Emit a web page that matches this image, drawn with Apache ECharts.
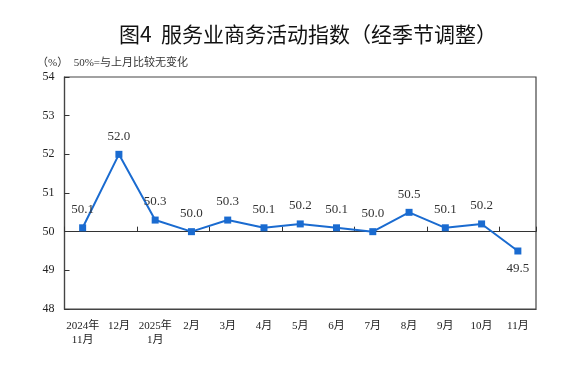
<!DOCTYPE html>
<html><head><meta charset="utf-8">
<script src="https://cdn.jsdelivr.net/npm/echarts@6/dist/echarts.min.js"></script>
<style>html,body{margin:0;padding:0;background:#fff}#c{width:584px;height:367px}</style>
</head><body><div id="c"></div>
<script>
const categories = ['2024年\n11月','12月','2025年\n1月','2月','3月','4月','5月','6月','7月','8月','9月','10月','11月'];
const values = [50.1, 52.0, 50.3, 50.0, 50.3, 50.1, 50.2, 50.1, 50.0, 50.5, 50.1, 50.2, 49.5];
const yMin = 48, yMax = 54, yStep = 1, baseLine = 50;
const serif = "'Liberation Serif','Noto Sans CJK SC',serif";
const chart = echarts.init(document.getElementById('c'));
const gridTop = 77, gridBottom = 58, gridH = 367 - gridTop - gridBottom;
chart.setOption({
  animation: false,
  title: [{
    text: '图4  服务业商务活动指数（经季节调整）',
    left: 114, top: 19,
    textStyle: {fontFamily: "'Noto Sans CJK SC'", fontSize: 21, fontWeight: 'normal', color: '#111'}
  }, {
    text: '（%）  50%=与上月比较无变化',
    left: 32, top: 53,
    textStyle: {fontFamily: serif, fontSize: 11, fontWeight: 'normal', color: '#333'}
  }],
  grid: {left: 64.5, right: 48, top: gridTop, bottom: gridBottom, show: true, borderColor: '#444', borderWidth: 1.2, backgroundColor: 'transparent'},
  xAxis: [{
    type: 'category', data: categories, boundaryGap: true,
    axisLine: {show: true, lineStyle: {color: '#444', width: 1.2}},
    axisTick: {show: false},
    axisLabel: {fontFamily: serif, fontSize: 11, color: '#222', margin: 10, lineHeight: 14, interval: 0}
  }, {
    type: 'category', data: categories, boundaryGap: true, position: 'bottom',
    offset: -(gridH * (baseLine - yMin) / (yMax - yMin)),
    axisLine: {show: true, lineStyle: {color: '#333', width: 1}},
    axisTick: {show: true, inside: true, length: 5, lineStyle: {color: '#333'}},
    axisLabel: {show: false}
  }],
  yAxis: {
    type: 'value', min: yMin, max: yMax, interval: yStep,
    axisLine: {show: true, lineStyle: {color: '#444', width: 1.2}},
    axisTick: {show: true, inside: true, length: 5, lineStyle: {color: '#333'}},
    splitLine: {show: false},
    axisLabel: {fontFamily: serif, fontSize: 12, color: '#222', margin: 10}
  },
  series: [{
    type: 'line', data: values.map((v, i) => ({
      value: v,
      label: {position: i === values.length - 1 ? 'bottom' : 'top'}
    })),
    symbol: 'rect', symbolSize: 7,
    lineStyle: {color: '#1a6bd0', width: 2},
    itemStyle: {color: '#1a6bd0'},
    label: {show: true, formatter: p => p.value.toFixed(1), fontFamily: serif, fontSize: 13, color: '#333', distance: 8}
  }]
});
</script></body></html>
